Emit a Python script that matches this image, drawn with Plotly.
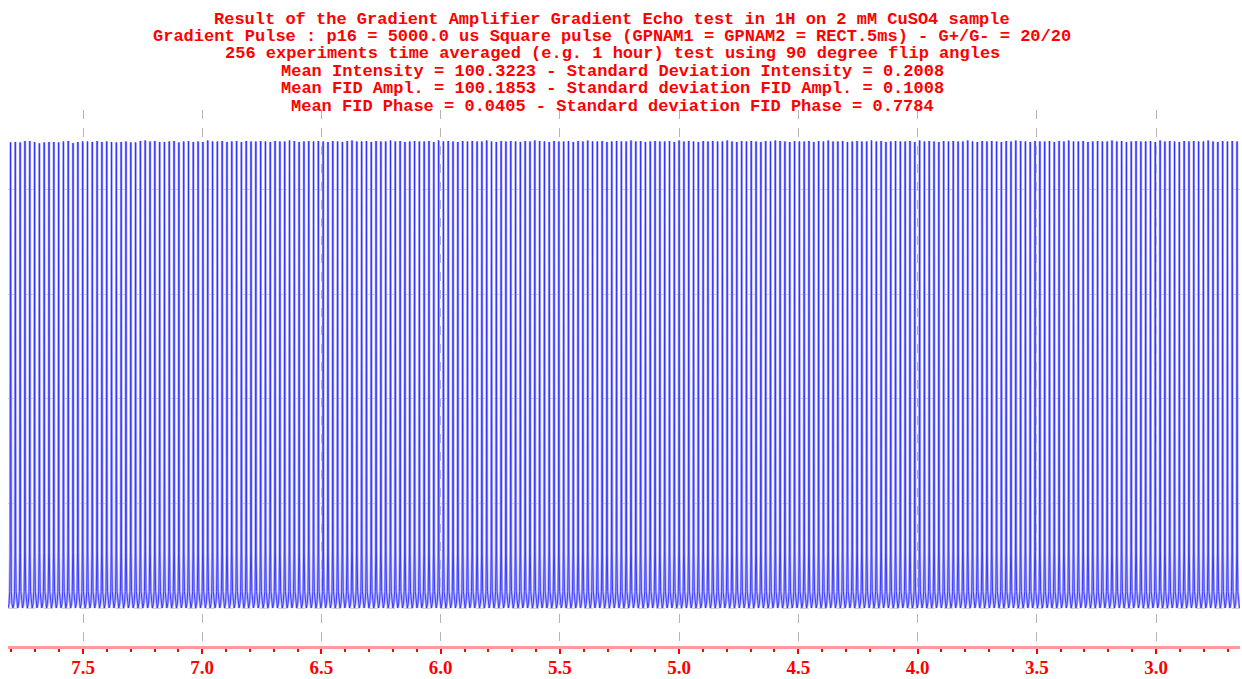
import numpy as np
import plotly.graph_objects as go

# ---- data -------------------------------------------------------------
TITLE_LINES = [
    "Result of the Gradient Amplifier Gradient Echo test in 1H on 2 mM CuSO4 sample",
    "Gradient Pulse : p16 = 5000.0 us Square pulse (GPNAM1 = GPNAM2 = RECT.5ms) - G+/G- = 20/20",
    "256 experiments time averaged (e.g. 1 hour) test using 90 degree flip angles",
    "Mean Intensity = 100.3223 - Standard Deviation Intensity = 0.2008",
    "Mean FID Ampl. = 100.1853 - Standard deviation FID Ampl. = 0.1008",
    "Mean FID Phase = 0.0405 - Standard deviation FID Phase = 0.7784",
]

N_EXPERIMENTS = 256
FIRST_PEAK_PPM = 7.804     # experiment 1
LAST_PEAK_PPM = 2.660      # experiment 256

TICK_VALUES = [7.5, 7.0, 6.5, 6.0, 5.5, 5.0, 4.5, 4.0, 3.5, 3.0]
TICK_LABELS = ["7.5", "7.0", "6.5", "6.0", "5.5", "5.0", "4.5", "4.0", "3.5", "3.0"]

# peak intensity of each experiment (arbitrary units, ~100)
PEAK_HEIGHTS = [
    100.1, 100.2, 100.1, 100.4, 100.4, 100.2, 99.9, 100.1, 100.2, 100.2, 100.1, 100.3, 100.4, 100.0, 100.2, 100.3,
    100.3, 100.2, 100.4, 100.2, 100.3, 100.2, 100.1, 100.2, 100.3, 100.1, 100.1, 100.4, 100.5, 100.3, 100.4, 100.2,
    100.2, 100.3, 100.4, 100.1, 100.3, 100.4, 100.2, 100.3, 100.2, 100.5, 100.3, 100.3, 100.4, 100.2, 100.3, 100.4,
    100.2, 100.4, 100.3, 100.3, 100.4, 100.3, 100.2, 100.4, 100.3, 100.3, 100.5, 100.4, 100.2, 100.3, 100.4, 100.3,
    100.4, 100.3, 100.2, 100.4, 100.3, 100.2, 100.4, 100.5, 100.3, 100.3, 100.4, 100.2, 100.4, 100.3, 100.3, 100.5,
    100.3, 100.4, 100.2, 100.3, 100.4, 100.3, 100.3, 100.4, 100.2, 100.5, 100.3, 100.4, 100.3, 100.2, 100.4, 100.3,
    100.4, 100.3, 100.3, 100.5, 100.3, 100.2, 100.4, 100.3, 100.4, 100.3, 100.2, 100.4, 100.3, 100.5, 100.4, 100.3,
    100.2, 100.4, 100.3, 100.3, 100.4, 100.2, 100.4, 100.3, 100.5, 100.3, 100.3, 100.4, 100.2, 100.3, 100.4, 100.3,
    100.3, 100.5, 100.3, 100.4, 100.2, 100.3, 100.4, 100.3, 100.3, 100.4, 100.2, 100.5, 100.3, 100.4, 100.3, 100.2,
    100.4, 100.3, 100.4, 100.3, 100.3, 100.5, 100.3, 100.2, 100.4, 100.3, 100.4, 100.3, 100.2, 100.4, 100.3, 100.5,
    100.4, 100.3, 100.2, 100.4, 100.3, 100.3, 100.4, 100.2, 100.4, 100.3, 100.5, 100.3, 100.3, 100.4, 100.2, 100.3,
    100.4, 100.3, 100.3, 100.5, 100.3, 100.4, 100.2, 100.3, 100.4, 100.3, 100.3, 100.4, 100.2, 100.5, 100.3, 100.4,
    100.3, 100.2, 100.4, 100.3, 100.4, 100.3, 100.3, 100.5, 100.3, 100.2, 100.4, 100.3, 100.4, 100.3, 100.2, 100.4,
    100.3, 100.5, 100.4, 100.3, 100.2, 100.4, 100.3, 100.3, 100.4, 100.2, 100.4, 100.3, 100.5, 100.3, 100.3, 100.4,
    100.2, 100.3, 100.4, 100.3, 100.3, 100.5, 100.3, 100.4, 100.2, 100.3, 100.4, 100.3, 100.3, 100.4, 100.2, 100.5,
    100.3, 100.4, 100.3, 100.2, 100.4, 100.3, 100.4, 100.3, 100.3, 100.5, 100.3, 100.2, 100.4, 100.3, 100.4, 100.3,
]

# ---- build the arrayed spectrum trace -------------------------------------
peak_ppm = np.linspace(FIRST_PEAK_PPM, LAST_PEAK_PPM, N_EXPERIMENTS)
spacing = (FIRST_PEAK_PPM - LAST_PEAK_PPM) / (N_EXPERIMENTS - 1)

# narrow line shape: offsets in units of the peak spacing, relative height
shape_dx = np.array([-0.5, -0.3, -0.16, -0.07, 0.0, 0.07, 0.16, 0.3, 0.5])
shape_fr = np.array([0.0, 0.01, 0.035, 0.12, 1.0, 0.12, 0.035, 0.01, 0.0])

xs, ys = [], []
for p, h in zip(peak_ppm, PEAK_HEIGHTS):
    xs.extend(p - shape_dx * spacing)
    ys.extend(shape_fr * h)

fig = go.Figure()
fig.add_trace(go.Scatter(x=xs, y=ys, mode="lines",
                         line=dict(color="#b2b2ff", width=2.6),
                         hoverinfo="skip", showlegend=False))
fig.add_trace(go.Scatter(x=xs, y=ys, mode="lines",
                         line=dict(color="#3030ff", width=0.9),
                         hoverinfo="skip", showlegend=False))

# ---- title lines ------------------------------------------------------------
PLOT_TOP, PLOT_BOTTOM = 110, 646
line_centres_px = [19, 36.5, 54, 71.5, 89, 106]
for text, ypx in zip(TITLE_LINES, line_centres_px):
    fig.add_annotation(
        text=text, xref="paper", yref="paper",
        x=(612 - 8) / 1232, y=(PLOT_BOTTOM - ypx) / (PLOT_BOTTOM - PLOT_TOP),
        xanchor="center", yanchor="middle", showarrow=False,
        font=dict(family="Liberation Mono", size=17, color="#ff0000", weight="bold"),
    )

fig.update_layout(
    width=1242, height=679,
    margin=dict(l=8, r=2, t=PLOT_TOP, b=679 - PLOT_BOTTOM, autoexpand=False),
    paper_bgcolor="white", plot_bgcolor="white",
    xaxis=dict(
        range=[7.8146, 2.6477], automargin=False,
        tickmode="array", tickvals=TICK_VALUES, ticktext=TICK_LABELS,
        tickfont=dict(family="Liberation Serif", size=19, color="#ff0000", weight="bold"),
        ticks="outside", ticklen=5, tickwidth=1.5, tickcolor="#ff0000",
        ticklabelstandoff=-3,
        showline=True, linecolor="#ff9a9a", linewidth=3,
        showgrid=True, gridcolor="#b4b4b4", gridwidth=1, griddash="dash",
        zeroline=False,
        minor=dict(dtick=0.1, tick0=0, ticks="outside", ticklen=3,
                   tickcolor="#ff0000", tickwidth=1.5, showgrid=False),
    ),
    yaxis=dict(
        range=[-8.17, 107.07], automargin=False,
        showticklabels=False, ticks="", showline=False, zeroline=False,
        showgrid=True, gridcolor="#d4d4d4", gridwidth=1, griddash="dash",
        tick0=0, dtick=22.5,
    ),
)

fig.write_html("out.html")
